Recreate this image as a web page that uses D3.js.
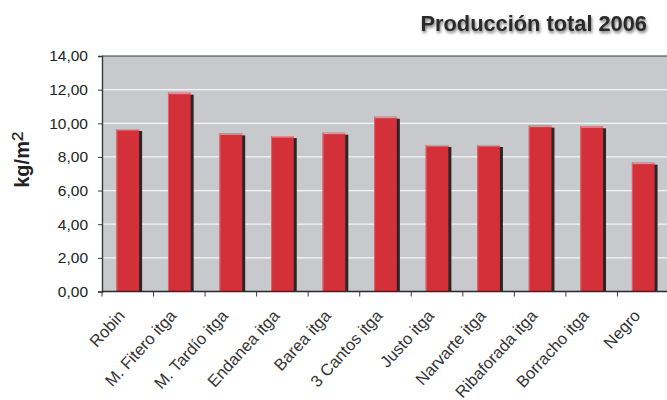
<!DOCTYPE html>
<html>
<head>
<meta charset="utf-8">
<script src="https://cdn.jsdelivr.net/npm/d3@7"></script>
<style>
  html, body { margin: 0; padding: 0; background: #fff; }
  svg { display: block; font-family: "Liberation Sans", Arial, sans-serif; }
</style>
</head>
<body>
<svg id="chart" width="667" height="400"></svg>
<script>
// Varieties and yields (kg/m²)
const categories = ["Robin", "M. Fitero itga", "M. Tardío itga", "Endanea itga", "Barea itga",
  "3 Cantos itga", "Justo itga", "Narvarte itga", "Ribaforada itga", "Borracho itga", "Negro"];
const values = [9.66, 11.82, 9.40, 9.24, 9.44, 10.39, 8.71, 8.71, 9.86, 9.82, 7.66];
const yTicks = [0, 2, 4, 6, 8, 10, 12, 14];
const title = "Producción total 2006";

const svg = d3.select("#chart");
const margin = { left: 102, top: 56, right: -2, bottom: 108.5 };
const W = 667, H = 400;
const x0 = margin.left, x1 = W - margin.right;
const yTop = margin.top, yBot = H - margin.bottom;

const x = d3.scaleBand().domain(categories).range([x0, x1]).paddingInner(0.56).paddingOuter(0.28);
const y = d3.scaleLinear().domain([0, 14]).range([yBot, yTop]);

const defs = svg.append("defs");
const f = defs.append("filter").attr("id", "tshadow").attr("x", "-10%").attr("y", "-30%").attr("width", "120%").attr("height", "160%");
f.append("feGaussianBlur").attr("in", "SourceAlpha").attr("stdDeviation", 1.5).attr("result", "b");
f.append("feOffset").attr("in", "b").attr("dx", 1.2).attr("dy", 1.8).attr("result", "o");
f.append("feComponentTransfer").attr("in", "o").attr("result", "o2")
  .append("feFuncA").attr("type", "linear").attr("slope", 0.55);
const m = f.append("feMerge");
m.append("feMergeNode").attr("in", "o2");
m.append("feMergeNode").attr("in", "SourceGraphic");

// plot background
svg.append("rect").attr("x", x0).attr("y", yTop).attr("width", x1 - x0).attr("height", yBot - yTop)
  .attr("fill", "#c8c9cc");

// gridlines
svg.append("g").selectAll("line").data(yTicks.filter(d => d > 0 && d < 14)).join("line")
  .attr("x1", x0).attr("x2", x1).attr("y1", d => y(d)).attr("y2", d => y(d))
  .attr("stroke", "#f6f6f6").attr("stroke-width", 1.3);

// top border
svg.append("line").attr("x1", x0).attr("x2", x1).attr("y1", yTop).attr("y2", yTop)
  .attr("stroke", "#3a3a3a").attr("stroke-width", 1.2);

// bars: shadow, body, highlight
const bars = svg.append("g").selectAll("g").data(values).join("g");
bars.append("rect")
  .attr("x", (d, i) => x(categories[i]) + 3).attr("y", d => y(d) + 2)
  .attr("width", x.bandwidth()).attr("height", d => yBot - y(d) - 2)
  .attr("fill", "#2b2525");
bars.append("rect")
  .attr("x", (d, i) => x(categories[i])).attr("y", d => y(d))
  .attr("width", x.bandwidth()).attr("height", d => yBot - y(d))
  .attr("fill", "#d3303a");
bars.append("rect")
  .attr("x", (d, i) => x(categories[i])).attr("y", d => y(d))
  .attr("width", x.bandwidth()).attr("height", 1.5)
  .attr("fill", "#f08a8e");
bars.append("rect")
  .attr("x", (d, i) => x(categories[i])).attr("y", d => y(d))
  .attr("width", 1).attr("height", d => yBot - y(d))
  .attr("fill", "#e0646a");

// y axis
const yAxis = svg.append("g").attr("transform", `translate(${x0},0)`)
  .call(d3.axisLeft(y).tickValues(yTicks).tickSize(4).tickPadding(10)
    .tickFormat(d => d3.format(".2f")(d).replace(".", ",")));
yAxis.select(".domain").attr("stroke", "#3a3a3a").attr("stroke-width", 1.4);
yAxis.selectAll(".tick line").attr("stroke", "#3a3a3a");
yAxis.selectAll(".tick text").attr("font-size", 15.5).attr("fill", "#222");

// x axis with ticks between bands
const xAxisG = svg.append("g");
xAxisG.append("line").attr("x1", x0).attr("x2", x1).attr("y1", yBot).attr("y2", yBot)
  .attr("stroke", "#2a2a2a").attr("stroke-width", 1.6);
const step = x.step();
const boundaries = categories.map((c, i) => x(c) - (step - x.bandwidth()) / 2);
xAxisG.selectAll("line.tk").data(boundaries).join("line").attr("class", "tk")
  .attr("x1", d => d).attr("x2", d => d).attr("y1", yBot).attr("y2", yBot + 5)
  .attr("stroke", "#3a3a3a");
xAxisG.selectAll("text").data(categories).join("text")
  .attr("transform", c => `translate(${x(c) + x.bandwidth() / 2 - 2},${yBot + 25}) rotate(-47.5)`)
  .attr("text-anchor", "end").attr("font-size", 16.5).attr("fill", "#333")
  .text(c => c);

// y label
const yl = svg.append("text").attr("transform", `translate(29,${(yTop + yBot) / 2 - 14}) rotate(-90)`)
  .attr("text-anchor", "middle").attr("font-size", 20).attr("font-weight", "bold").attr("fill", "#222");
yl.append("tspan").text("kg/m");
yl.append("tspan").attr("font-size", 28).attr("font-weight", "normal").attr("dy", 2).text("²");

// title
svg.append("text").attr("x", 647).attr("y", 31).attr("text-anchor", "end")
  .attr("font-size", 21.8).attr("font-weight", "bold").attr("fill", "#2a2a2a")
  .attr("filter", "url(#tshadow)")
  .text(title);
</script>
</body>
</html>
